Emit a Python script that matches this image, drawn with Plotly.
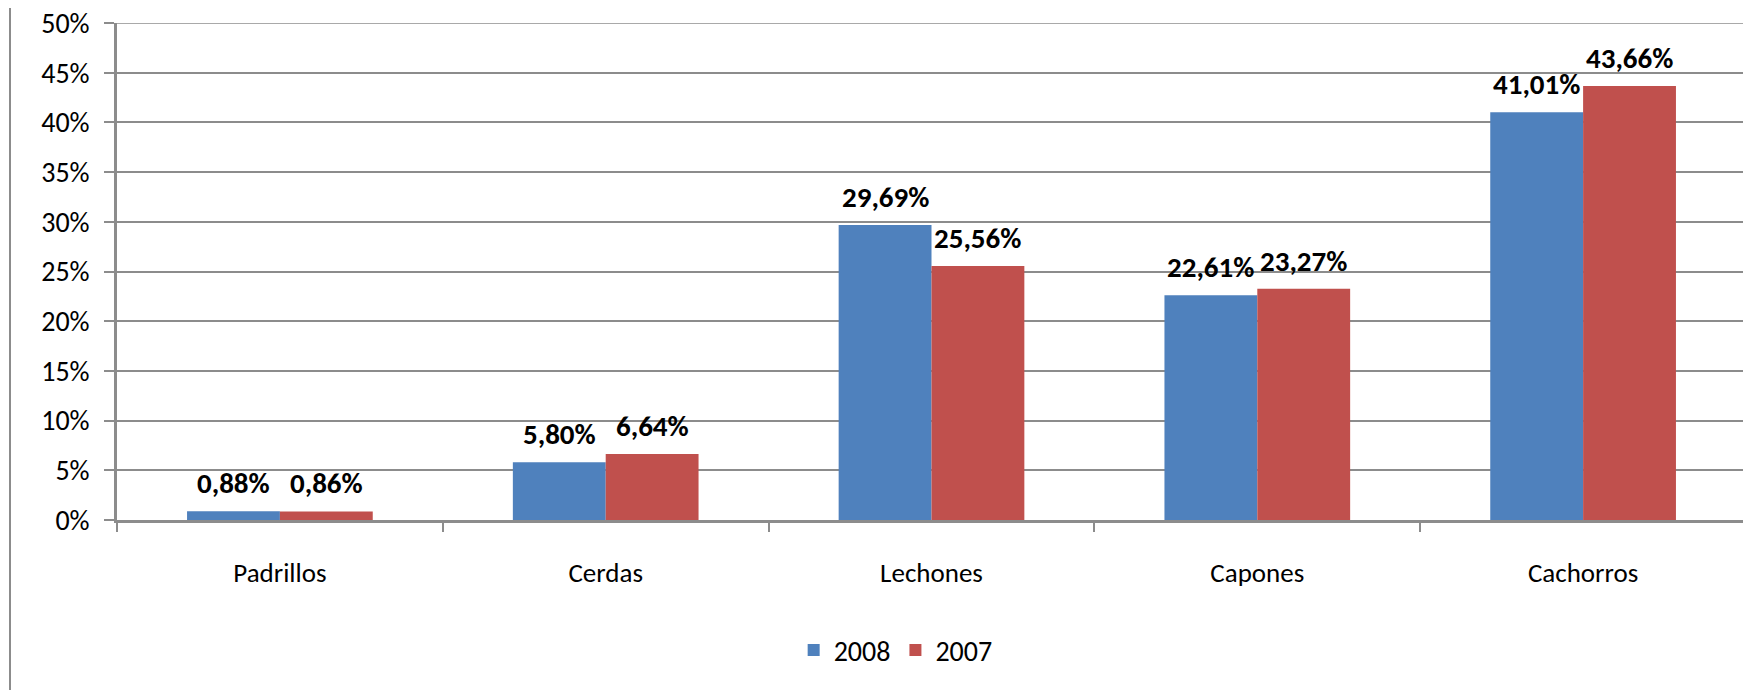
import plotly.graph_objects as go

categories = ["Padrillos", "Cerdas", "Lechones", "Capones", "Cachorros"]
series_2008 = [0.88, 5.80, 29.69, 22.61, 41.01]
series_2007 = [0.86, 6.64, 25.56, 23.27, 43.66]
y_ticks = [0, 5, 10, 15, 20, 25, 30, 35, 40, 45, 50]
y_tick_labels = [f"{v}%" for v in y_ticks]

FONT = "Carlito, Calibri, Lato, sans-serif"
GRID = "#8c8c8c"

# page body has an 8px margin; compensate so the figure fills the window
OFF = 8
W, H = 1751 - OFF, 690 - OFF
L, R, T, B = 117 - OFF, 5, 23 - OFF, 170
plot_w = W - L - R
plot_h = H - T - B

fig = go.Figure()
fig.add_trace(go.Bar(name="2008", x=categories, y=series_2008, marker_color="#4F81BD",
                     marker_line_width=0))
fig.add_trace(go.Bar(name="2007", x=categories, y=series_2007, marker_color="#C0504D",
                     marker_line_width=0))

bar_px = plot_w / len(categories) * (1 - 0.43) / 2
def fmt(v):
    return f"{v:.2f}".replace(".", ",") + "%"

annotations = []
for cat, a, b in zip(categories, series_2008, series_2007):
    for val, sh in ((a, -bar_px / 2), (b, bar_px / 2)):
        annotations.append(dict(x=cat, y=val, xref="x", yref="y", text=f"<b>{fmt(val)}</b>",
                                showarrow=False, xshift=sh, yshift=8, yanchor="bottom",
                                font=dict(family=FONT, size=29, color="black")))

fig.update_layout(
    width=W, height=H,
    margin=dict(l=L, r=R, t=T, b=B, autoexpand=False),
    paper_bgcolor="white", plot_bgcolor="white",
    barmode="group", bargap=0.43, bargroupgap=0,
    font=dict(family=FONT, size=28, color="black"),
    annotations=annotations,
    legend=dict(orientation="h", x=0.478, xanchor="center", y=-0.262, yanchor="middle",
                font=dict(family=FONT, size=28), itemwidth=30, traceorder="normal"),
    shapes=[dict(type="line", xref="paper", yref="paper",
                 x0=(10 - OFF - L) / plot_w, x1=(10 - OFF - L) / plot_w,
                 y0=-B / plot_h, y1=(H - B) / plot_h,
                 line=dict(color=GRID, width=2)),
            dict(type="line", xref="paper", yref="y", x0=0, x1=1, y0=y_ticks[-1], y1=y_ticks[-1],
                 line=dict(color=GRID, width=1.5), layer="below")],
)
fig.update_yaxes(range=[0, 50], tickvals=y_ticks, ticktext=y_tick_labels,
                 showgrid=True, gridcolor=GRID, gridwidth=1.5,
                 showline=True, linecolor=GRID, linewidth=2.5,
                 ticks="outside", ticklen=10, tickcolor=GRID, tickwidth=2,
                 zeroline=False, ticklabelstandoff=9, automargin=False,
                 ticklabeloverflow="allow",
                 tickfont=dict(family=FONT, size=28))
fig.update_xaxes(showline=True, linecolor=GRID, linewidth=2.5,
                 ticks="outside", ticklen=9, tickcolor=GRID, tickwidth=2,
                 tickson="boundaries", showgrid=False, automargin=False,
                 tickfont=dict(family=FONT, size=27), ticklabelstandoff=27)

fig.write_html("out.html")
